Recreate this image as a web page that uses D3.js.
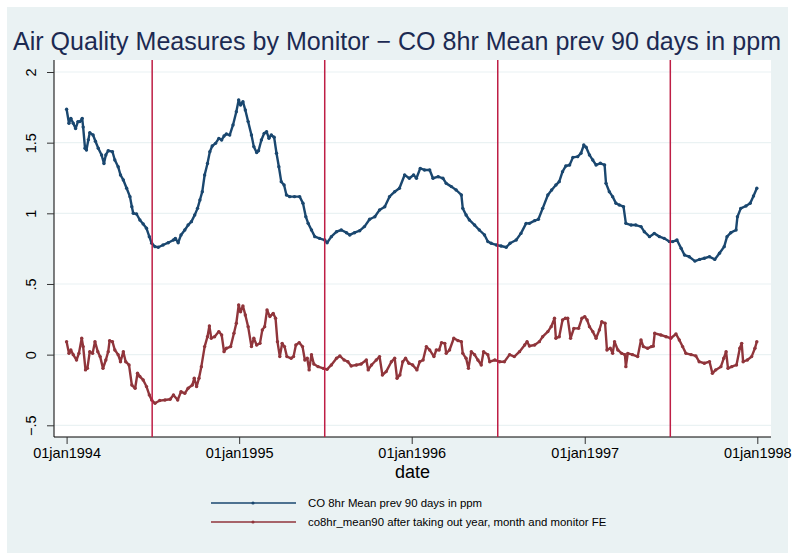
<!DOCTYPE html>
<html>
<head>
<meta charset="utf-8">
<script src="https://cdn.jsdelivr.net/npm/d3@7"></script>
<style>
  body { margin: 0; background: #fff; }
  text { font-family: "Liberation Sans", Arial, sans-serif; }
</style>
</head>
<body>
<div id="root"></div>
<script>
// days since 01jan1994
const blueDays = [0,5,9,14,19,24,28,33,35,39,42,46,49,56,61,67,74,79,83,88,97,102,109,114,120,127,134,138,141,148,155,162,169,175,180,187,194,204,215,226,230,236,242,250,257,264,271,277,282,287,292,298,303,308,315,322,328,333,338,345,352,359,364,368,373,378,384,391,396,402,406,412,418,423,428,433,439,444,449,454,460,465,472,482,493,500,506,511,518,525,535,546,551,560,571,581,592,599,609,620,630,641,652,662,673,683,694,704,715,725,734,740,748,757,768,775,786,796,803,814,824,835,838,845,852,863,873,884,891,898,909,919,930,938,951,961,972,979,990,998,1007,1018,1026,1035,1042,1049,1056,1064,1071,1081,1088,1094,1099,1106,1113,1120,1129,1138,1141,1148,1155,1162,1169,1178,1183,1194,1204,1215,1222,1233,1243,1254,1264,1275,1282,1291,1300,1307,1317,1329,1339,1349,1360,1371,1381,1391,1397,1405,1416,1419,1426,1437,1446,1453,1460];
const blueVals = [1.736,1.637,1.672,1.637,1.60,1.649,1.649,1.672,1.61,1.46,1.448,1.52,1.571,1.554,1.51,1.46,1.413,1.353,1.413,1.443,1.436,1.377,1.33,1.271,1.236,1.177,1.118,1.047,1.0,0.995,0.953,0.925,0.894,0.835,0.788,0.764,0.76,0.776,0.792,0.811,0.823,0.792,0.847,0.882,0.917,0.941,0.988,1.035,1.094,1.153,1.271,1.353,1.436,1.476,1.495,1.53,1.519,1.547,1.561,1.554,1.625,1.719,1.802,1.767,1.79,1.731,1.649,1.554,1.472,1.43,1.443,1.519,1.566,1.578,1.531,1.554,1.538,1.425,1.33,1.224,1.2,1.13,1.118,1.118,1.118,1.071,0.976,0.929,0.882,0.835,0.823,0.811,0.792,0.835,0.870,0.882,0.863,0.847,0.863,0.877,0.906,0.958,0.976,1.024,1.047,1.118,1.153,1.177,1.271,1.248,1.271,1.248,1.318,1.307,1.307,1.248,1.259,1.248,1.212,1.189,1.165,1.13,1.035,0.988,0.953,0.917,0.882,0.847,0.80,0.788,0.776,0.769,0.76,0.788,0.811,0.858,0.929,0.929,0.948,0.958,1.035,1.13,1.165,1.2,1.224,1.295,1.335,1.342,1.396,1.401,1.425,1.483,1.467,1.413,1.377,1.342,1.354,1.342,1.212,1.153,1.118,1.071,1.059,1.047,0.929,0.917,0.917,0.906,0.870,0.835,0.858,0.835,0.823,0.80,0.80,0.811,0.752,0.705,0.693,0.662,0.674,0.682,0.693,0.674,0.717,0.764,0.835,0.863,0.882,0.976,1.035,1.052,1.071,1.123,1.177];

const redDays = [0,5,9,14,21,26,32,35,40,44,49,55,60,66,71,77,83,88,91,97,102,109,114,120,125,132,138,145,150,155,162,169,175,180,187,197,208,219,226,235,242,250,257,266,270,275,280,285,292,298,302,306,313,322,328,333,338,347,354,359,364,368,373,378,384,391,396,402,409,414,419,424,430,437,442,446,451,456,461,466,475,480,485,492,499,504,509,513,518,523,532,543,551,560,571,578,587,595,602,613,623,634,638,645,655,662,668,676,687,694,699,705,711,717,724,732,741,747,754,761,768,777,782,788,793,800,803,810,819,828,835,838,845,850,856,863,870,877,882,891,895,906,916,926,937,947,958,969,974,979,990,1000,1007,1018,1025,1032,1035,1042,1049,1055,1060,1066,1073,1083,1090,1096,1101,1106,1113,1120,1127,1132,1139,1143,1150,1155,1159,1166,1174,1181,1183,1187,1197,1208,1215,1220,1229,1237,1241,1244,1257,1268,1278,1289,1296,1303,1310,1321,1331,1338,1349,1360,1366,1373,1384,1390,1395,1399,1407,1417,1424,1428,1431,1440,1449,1456,1460];
const redVals = [0.092,0.009,0.033,0.0,-0.038,0.009,0.116,0.057,-0.108,-0.097,0.021,0.009,0.092,0.021,-0.014,-0.097,-0.038,0.021,0.099,0.092,0.033,0.0,-0.05,0.021,-0.05,-0.073,-0.215,-0.238,-0.132,-0.155,-0.179,-0.226,-0.285,-0.321,-0.344,-0.325,-0.321,-0.316,-0.285,-0.321,-0.262,-0.274,-0.238,-0.215,-0.167,-0.226,-0.167,-0.085,0.057,0.127,0.203,0.116,0.127,0.163,0.139,0.021,0.045,0.057,0.151,0.222,0.351,0.304,0.344,0.281,0.198,0.057,0.116,0.068,0.080,0.175,0.198,0.316,0.269,0.292,0.257,0.092,-0.014,0.080,0.057,-0.014,-0.026,-0.014,0.068,0.085,0.057,-0.038,-0.026,-0.108,0.0,-0.066,-0.085,-0.097,-0.104,-0.073,-0.026,-0.009,-0.038,-0.05,-0.08,-0.073,-0.066,-0.038,-0.108,-0.073,-0.038,-0.014,-0.144,-0.12,-0.05,-0.026,-0.167,-0.144,-0.05,-0.026,-0.061,-0.073,-0.108,-0.05,-0.038,0.057,0.033,-0.014,0.033,0.033,0.085,0.08,0.009,0.033,0.116,0.099,0.092,0.009,-0.026,-0.097,0.021,0.0,-0.038,-0.073,0.021,0.0,-0.05,-0.038,-0.05,-0.05,0.0,-0.014,0.021,0.068,0.092,0.061,0.068,0.092,0.127,0.163,0.198,0.257,0.116,0.127,0.245,0.257,0.257,0.116,0.186,0.186,0.257,0.269,0.245,0.198,0.163,0.116,0.175,0.233,0.222,0.033,0.045,0.009,0.092,0.033,0.009,0.0,-0.085,0.009,0.0,-0.014,0.104,0.057,0.045,0.057,0.06,0.151,0.139,0.127,0.116,0.146,0.104,0.057,0.009,0.0,-0.009,-0.05,-0.061,-0.05,-0.132,-0.108,-0.085,-0.026,0.021,-0.097,-0.085,-0.073,0.045,0.080,-0.05,-0.038,-0.014,0.045,0.092];

const seriesNames = ['CO 8hr Mean prev 90 days in ppm', 'co8hr_mean90 after taking out year, month and monitor FE'];
const seriesColors = ['#1a476f', '#90353b'];
const yTicks = [-0.5, 0, 0.5, 1, 1.5, 2];
const yTickLabels = ['\u2212.5', '0', '.5', '1', '1.5', '2'];
const xTickDates = ['1994-01-01', '1995-01-01', '1996-01-01', '1997-01-01', '1998-01-01'];
const xTickLabels = ['01jan1994', '01jan1995', '01jan1996', '01jan1997', '01jan1998'];
const xLineDates = ['1994-07-01', '1995-07-01', '1996-07-01', '1997-07-01'];

const W = 800, H = 560;
const plot = { left: 54, right: 771, top: 60, bottom: 437 };
const start = new Date(1994, 0, 1);
const parse = d3.timeParse('%Y-%m-%d');
const toDate = (d) => d3.timeDay.offset(start, d);
const font = '"Liberation Sans", Arial, sans-serif';

const svg = d3.select('#root').append('svg')
  .attr('width', W)
  .attr('height', H);

svg.append('rect').attr('width', W).attr('height', H).attr('fill', '#fff');
svg.append('rect')
  .attr('x', 7).attr('y', 7).attr('width', 781).attr('height', 546)
  .attr('fill', '#eaf2f3');
svg.append('rect')
  .attr('x', plot.left).attr('y', plot.top)
  .attr('width', plot.right - plot.left).attr('height', plot.bottom - plot.top)
  .attr('fill', '#fff');

const x = d3.scaleTime()
  .domain([parse('1994-01-01'), parse('1998-01-01')])
  .range([66.6, 757.3]);
const y = d3.scaleLinear()
  .domain([-0.5, 2])
  .range([425.3, 72]);

// grid
svg.append('g').selectAll('line')
  .data(yTicks)
  .enter()
  .append('line')
    .attr('x1', plot.left).attr('x2', plot.right)
    .attr('y1', (d) => y(d)).attr('y2', (d) => y(d))
    .attr('stroke', '#eaf2f3')
    .attr('stroke-width', 1.2);

// y axis
const yAxis = svg.append('g')
  .attr('transform', 'translate(' + plot.left + ',0)')
  .call(d3.axisLeft(y).tickValues(yTicks).tickSize(7).tickFormat((d, i) => yTickLabels[i]));
yAxis.select('.domain').attr('d', 'M0,' + plot.top + 'V' + plot.bottom).attr('stroke', '#000');
yAxis.selectAll('.tick line').attr('stroke', '#333');
yAxis.selectAll('.tick text')
  .attr('x', null).attr('dy', null)
  .attr('transform', 'translate(-18.5,0) rotate(-90)')
  .attr('text-anchor', 'middle')
  .attr('font-size', 14.5)
  .attr('font-family', font)
  .attr('fill', '#000');

// x axis
const xAxis = svg.append('g')
  .attr('transform', 'translate(0,' + plot.bottom + ')')
  .call(d3.axisBottom(x).tickValues(xTickDates.map(parse)).tickSize(7)
    .tickFormat((d, i) => xTickLabels[i]));
xAxis.select('.domain').attr('d', 'M' + plot.left + ',0H' + plot.right).attr('stroke', '#000');
xAxis.selectAll('.tick line').attr('stroke', '#333');
xAxis.selectAll('.tick text')
  .attr('y', 21).attr('dy', null)
  .attr('font-size', 14.5)
  .attr('font-family', font)
  .attr('fill', '#000');

svg.append('text')
  .attr('x', (plot.left + plot.right) / 2).attr('y', 478)
  .attr('text-anchor', 'middle')
  .attr('font-size', 18)
  .attr('fill', '#000')
  .text('date');

// series
const series = [
  { name: seriesNames[0], color: seriesColors[0], pts: blueDays.map((d, i) => ({ date: toDate(d), v: blueVals[i] })) },
  { name: seriesNames[1], color: seriesColors[1], pts: redDays.map((d, i) => ({ date: toDate(d), v: redVals[i] })) },
];

const line = d3.line().x((d) => x(d.date)).y((d) => y(d.v));

const sg = svg.append('g').selectAll('.series')
  .data(series)
  .enter()
  .append('g')
    .attr('class', 'series');

sg.append('path')
  .attr('d', (d) => line(d.pts))
  .attr('fill', 'none')
  .attr('stroke', (d) => d.color)
  .attr('stroke-width', 2.4)
  .attr('stroke-linejoin', 'round');

sg.each(function(s) {
  d3.select(this).selectAll('circle')
    .data(s.pts)
    .enter()
    .append('circle')
      .attr('cx', (d) => x(d.date))
      .attr('cy', (d) => y(d.v))
      .attr('r', 1.7)
      .attr('fill', s.color);
});

// vertical reference lines
svg.append('g').selectAll('line')
  .data(xLineDates.map(parse))
  .enter()
  .append('line')
    .attr('x1', (d) => x(d)).attr('x2', (d) => x(d))
    .attr('y1', plot.top).attr('y2', plot.bottom)
    .attr('stroke', '#be1e45')
    .attr('stroke-width', 1.5);

// title
svg.append('text')
  .attr('x', 397).attr('y', 50)
  .attr('text-anchor', 'middle')
  .attr('font-size', 25)
  .attr('fill', '#1c2a52')
  .attr('textLength', 768)
  .attr('lengthAdjust', 'spacingAndGlyphs')
  .text('Air Quality Measures by Monitor \u2212 CO 8hr Mean prev 90 days in ppm');

// legend
const lg = svg.append('g').selectAll('.key')
  .data(series)
  .enter()
  .append('g')
    .attr('class', 'key')
    .attr('transform', (d, i) => 'translate(211,' + (503 + i * 19) + ')');
lg.append('line')
  .attr('x1', 0).attr('x2', 85)
  .attr('stroke', (d) => d.color)
  .attr('stroke-width', 1.6);
lg.append('circle')
  .attr('cx', 42).attr('r', 1.6)
  .attr('fill', (d) => d.color);
lg.append('text')
  .attr('x', 97).attr('y', 4)
  .attr('font-size', 11.4)
  .attr('fill', '#000')
  .text((d) => d.name);
</script>
</body>
</html>
